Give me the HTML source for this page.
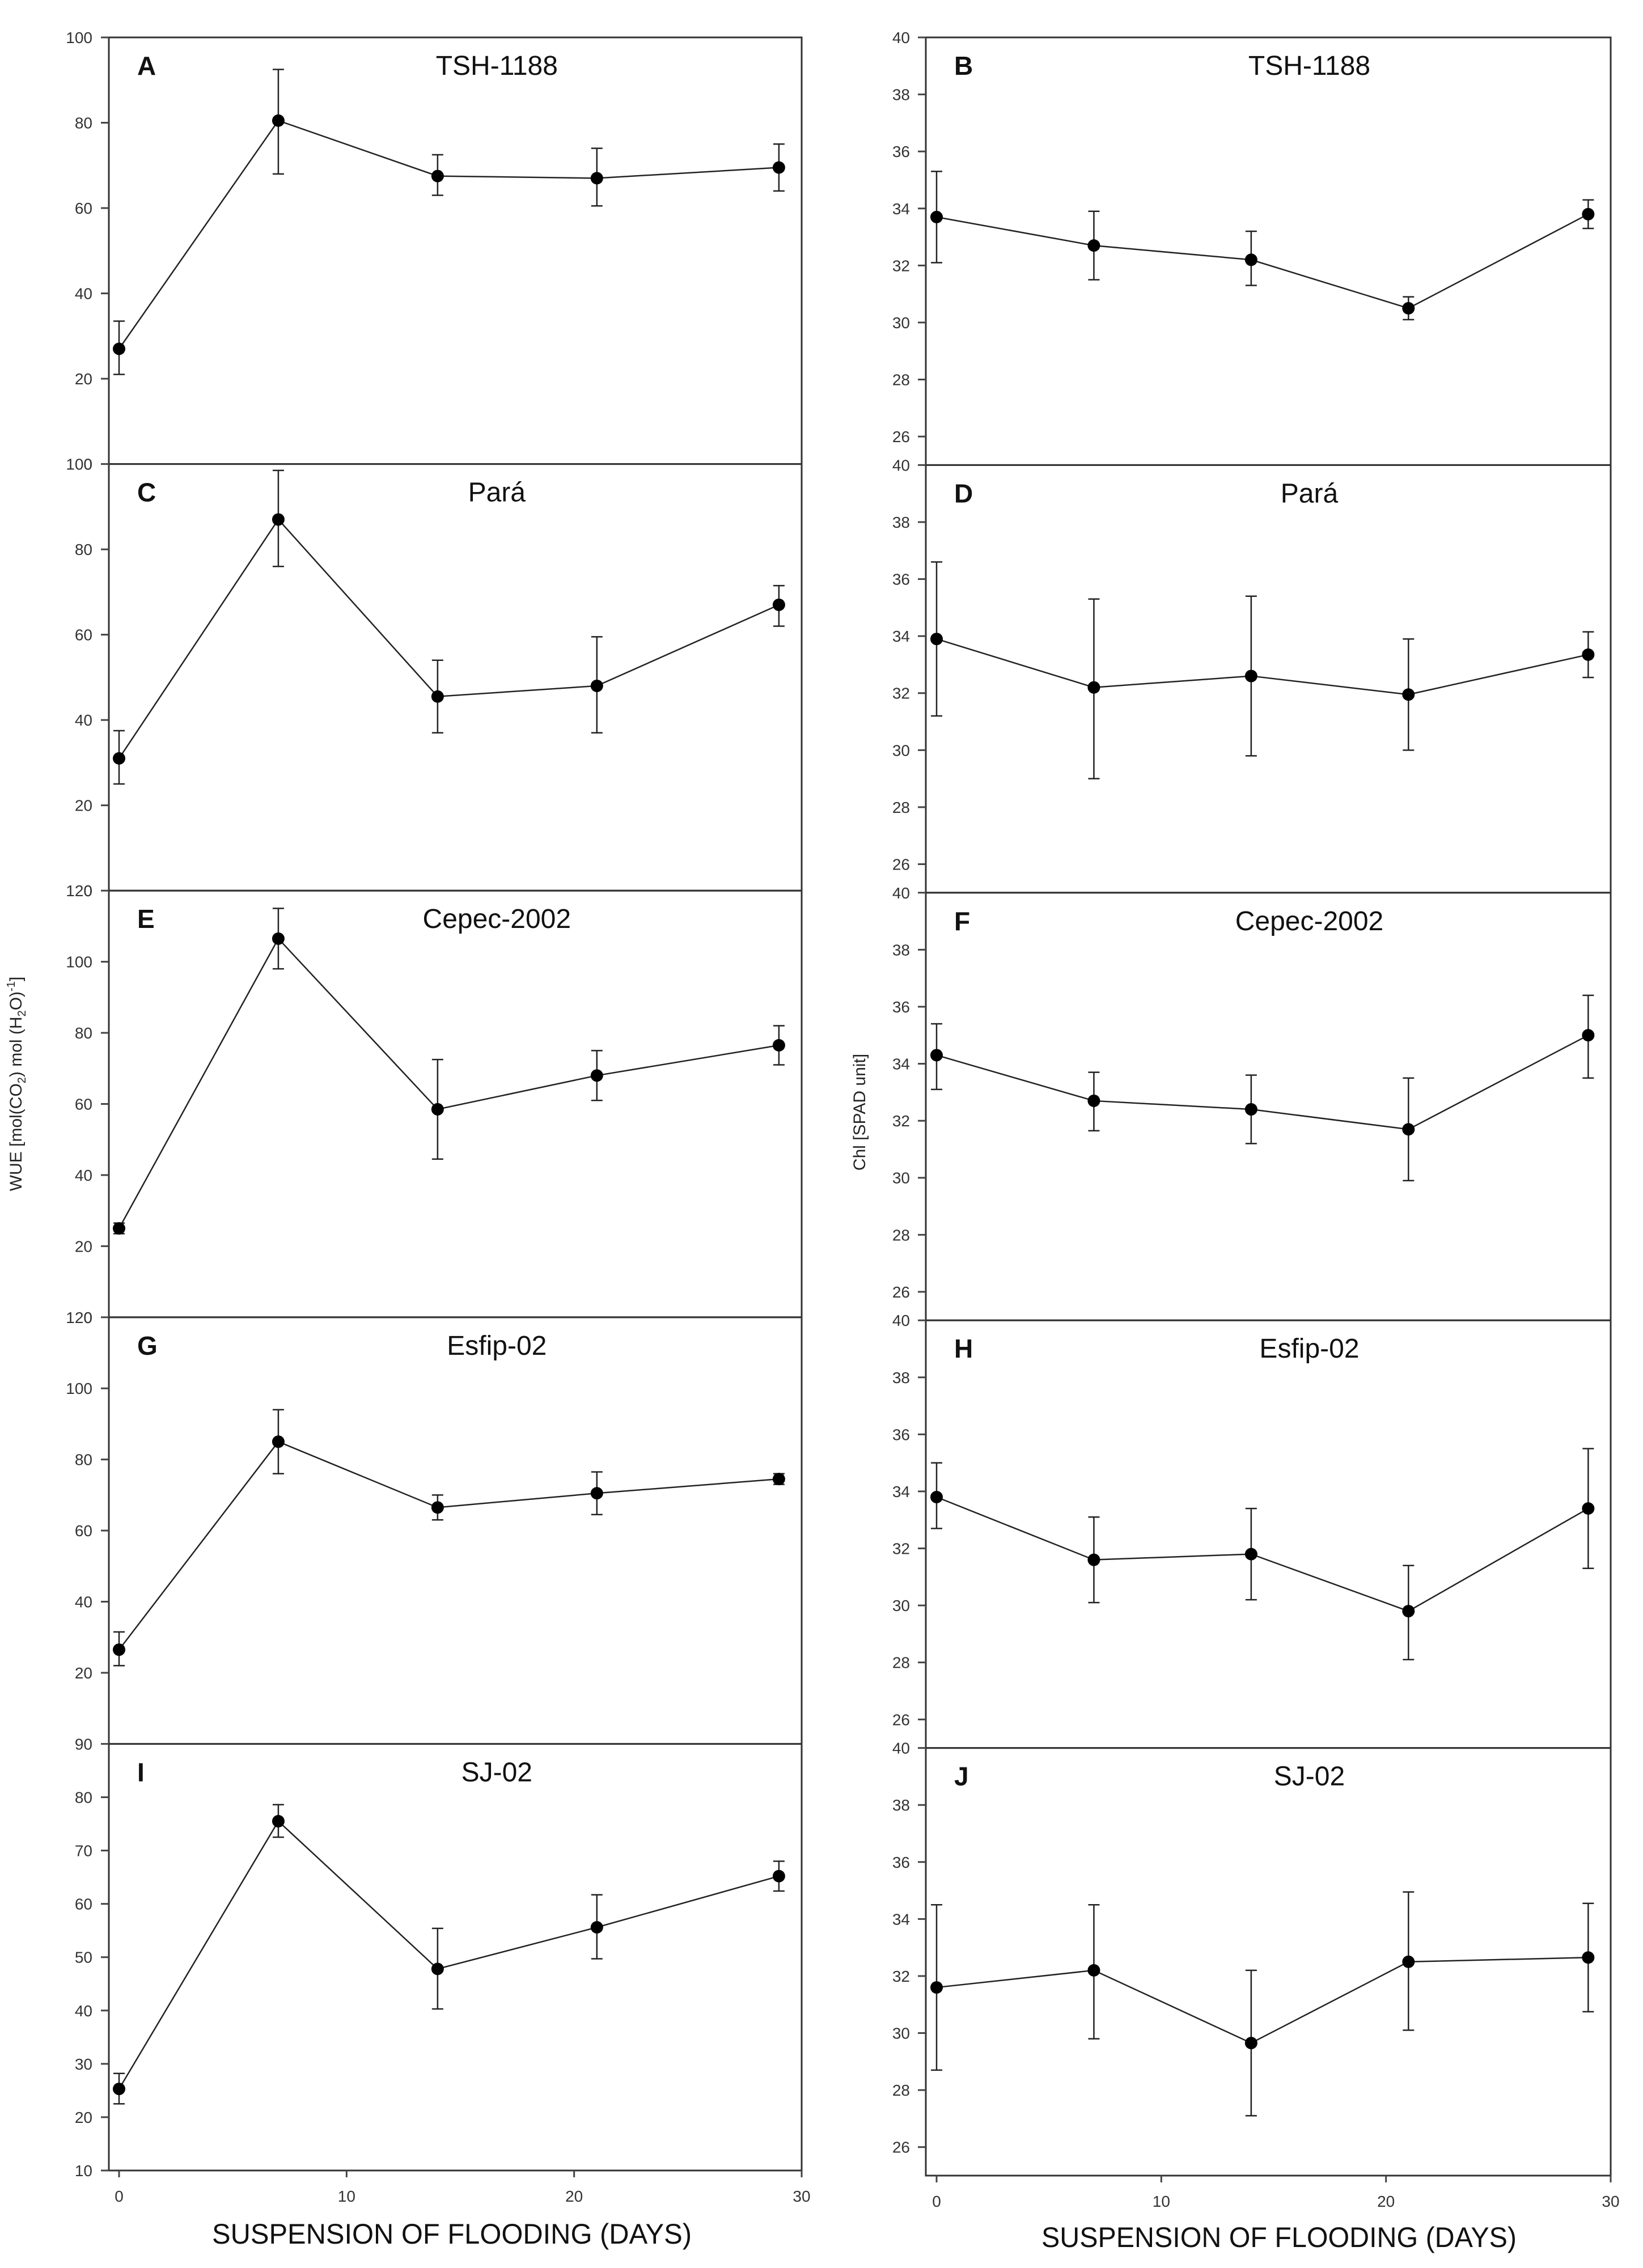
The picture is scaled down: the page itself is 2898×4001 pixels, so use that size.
<!DOCTYPE html>
<html><head><meta charset="utf-8"><style>
body{margin:0;background:#fff}
svg{display:block;font-family:"Liberation Sans",Arial,sans-serif}
</style></head><body>
<svg id="fig" width="2898" height="4001" viewBox="0 0 2898 4001" xmlns="http://www.w3.org/2000/svg">
<rect width="2898" height="4001" fill="#fff"/>
<text transform="translate(38,1912) rotate(-90)" text-anchor="middle" font-size="30" fill="#222">WUE [mol(CO<tspan font-size="20" dy="7">2</tspan><tspan dy="-7">) mol (H</tspan><tspan font-size="20" dy="7">2</tspan><tspan dy="-7">O)</tspan><tspan font-size="20" dy="-12">-1</tspan><tspan dy="12">]</tspan></text>
<text transform="translate(1526,1962) rotate(-90)" text-anchor="middle" font-size="30" fill="#222">Chl [SPAD unit]</text>
<text x="797" y="3958" text-anchor="middle" font-size="50" textLength="846" lengthAdjust="spacingAndGlyphs" fill="#111">SUSPENSION OF FLOODING (DAYS)</text>
<text x="2256" y="3964" text-anchor="middle" font-size="50" textLength="838" lengthAdjust="spacingAndGlyphs" fill="#111">SUSPENSION OF FLOODING (DAYS)</text>
</svg>
<script>
const days = [0, 7, 14, 21, 29];
const xTicks = [0, 10, 20, 30];
const panelLetters = ["A","C","E","G","I","B","D","F","H","J"];
const cultivars = ["TSH-1188","Pará","Cepec-2002","Esfip-02","SJ-02","TSH-1188","Pará","Cepec-2002","Esfip-02","SJ-02"];
const meanA = [27, 80.5, 67.5, 67, 69.5];
const lowA = [21, 68, 63, 60.5, 64];
const highA = [33.5, 92.5, 72.5, 74, 75];
const meanC = [31, 87, 45.5, 48, 67];
const lowC = [25, 76, 37, 37, 62];
const highC = [37.5, 98.5, 54, 59.5, 71.5];
const meanE = [25, 106.5, 58.5, 68, 76.5];
const lowE = [23.5, 98, 44.5, 61, 71];
const highE = [26.5, 115, 72.5, 75, 82];
const meanG = [26.5, 85, 66.5, 70.5, 74.5];
const lowG = [22, 76, 63, 64.5, 73];
const highG = [31.5, 94, 70, 76.5, 76];
const meanI = [25.3, 75.5, 47.8, 55.6, 65.2];
const lowI = [22.5, 72.5, 40.3, 49.7, 62.4];
const highI = [28.2, 78.6, 55.4, 61.7, 68];
const meanB = [33.7, 32.7, 32.2, 30.5, 33.8];
const lowB = [32.1, 31.5, 31.3, 30.1, 33.3];
const highB = [35.3, 33.9, 33.2, 30.9, 34.3];
const meanD = [33.9, 32.2, 32.6, 31.95, 33.35];
const lowD = [31.2, 29, 29.8, 30, 32.55];
const highD = [36.6, 35.3, 35.4, 33.9, 34.15];
const meanF = [34.3, 32.7, 32.4, 31.7, 35];
const lowF = [33.1, 31.65, 31.2, 29.9, 33.5];
const highF = [35.4, 33.7, 33.6, 33.5, 36.4];
const meanH = [33.8, 31.6, 31.8, 29.8, 33.4];
const lowH = [32.7, 30.1, 30.2, 28.1, 31.3];
const highH = [35, 33.1, 33.4, 31.4, 35.5];
const meanJ = [31.6, 32.2, 29.65, 32.5, 32.65];
const lowJ = [28.7, 29.8, 27.1, 30.1, 30.75];
const highJ = [34.5, 34.5, 32.2, 34.95, 34.55];
const yMins = [0, 0, 0, 0, 10, 25, 25, 25, 25, 25];
const yMaxs = [100, 100, 120, 120, 90, 40, 40, 40, 40, 40];
const ticksWUE = [20, 40, 60, 80, 100];
const ticksWUE120 = [20, 40, 60, 80, 100, 120];
const ticksI = [10, 20, 30, 40, 50, 60, 70, 80, 90];
const ticksChl = [26, 28, 30, 32, 34, 36, 38, 40];

const NS = "http://www.w3.org/2000/svg";
const svg = document.getElementById("fig");
function mk(tag, attrs, parent){const e=document.createElementNS(NS,tag);for(const k in attrs)e.setAttribute(k,attrs[k]);(parent||svg).appendChild(e);return e;}

const series = [
 [meanA,lowA,highA],[meanC,lowC,highC],[meanE,lowE,highE],[meanG,lowG,highG],[meanI,lowI,highI],
 [meanB,lowB,highB],[meanD,lowD,highD],[meanF,lowF,highF],[meanH,lowH,highH],[meanJ,lowJ,highJ]];
const tickSets = [ticksWUE, ticksWUE, ticksWUE120, ticksWUE120, ticksI, ticksChl, ticksChl, ticksChl, ticksChl, ticksChl];

for (let p = 0; p < 10; p++) {
  const right = p >= 5, row = p % 5;
  const L = right ? 1633 : 192, R = right ? 2841 : 1414;
  const top0 = 66, bot = right ? 3838 : 3829;
  const ph = (bot - top0) / 5;
  const T = top0 + row * ph, B = T + ph;
  const x0 = right ? 1652 : 210, x30 = R;
  const xs = d => x0 + (x30 - x0) * d / 30;
  const ys = v => B - (v - yMins[p]) / (yMaxs[p] - yMins[p]) * ph;
  const g = mk("g", {});
  
  
  const fr = mk("rect", {x:L, y:T, width:R-L, height:ph, fill:"none", stroke:"#333", "stroke-width":3}, g);
  
  
  // y ticks
  tickSets[p].forEach(v => {
    const y = ys(v);
    const tk = mk("line", {x1:L-14, x2:L, y1:y, y2:y, stroke:"#444", "stroke-width":3}, g);
    
    
    const tl = mk("text", {x: right ? 1605 : 163, y: y + 10, "text-anchor":"end", "font-size":28, fill:"#333"}, g);
    
    
    tl.textContent = v;
  });
  if (p === 0 || p === 1 || p === 2) {
    const tl = mk("text", {x: 163, y: B + 10, "text-anchor":"end", "font-size":28, fill:"#333"}, g);
    
    
    tl.textContent = "0";
  }
  // letter + title
  const lt = mk("text", {x: L + 50, y: T + 66, "font-size":46, "font-weight":"bold", fill:"#111"}, g);
  
  
  lt.textContent = panelLetters[p];
  const tt = mk("text", {x: L + 0.56 * (R - L), y: T + 66, "text-anchor":"middle", "font-size":48, fill:"#111"}, g);
  
  
  tt.textContent = cultivars[p];
  // x axis on bottom panel
  if (row === 4) {
    xTicks.forEach(d => {
      const x = xs(d);
      const xt = mk("line", {x1:x, x2:x, y1:B, y2:B+12, stroke:"#444", "stroke-width":3}, g);
      
      
      const xl = mk("text", {x:x, y:B+55, "text-anchor":"middle", "font-size":28, fill:"#333"}, g);
      
      
      xl.textContent = d;
    });
  }
  const [m, lo, hi] = series[p];
  // error bars
  days.forEach((d, i) => {
    const x = xs(d);
    const eb = mk("path", {d:`M${x},${ys(lo[i])}V${ys(hi[i])}M${x-10},${ys(lo[i])}H${x+10}M${x-10},${ys(hi[i])}H${x+10}`, stroke:"#222", "stroke-width":2.5, fill:"none"}, g);
    
    
  });
  const line = mk("polyline", {points: days.map((d,i)=>xs(d)+","+ys(m[i])).join(" "), fill:"none", stroke:"#222", "stroke-width":2.5}, g);
  
  
  days.forEach((d, i) => {
    const c = mk("circle", {cx: xs(d), cy: ys(m[i]), r: 11, fill:"#000"}, g);
    
    
  });
}
</script>
</body></html>
